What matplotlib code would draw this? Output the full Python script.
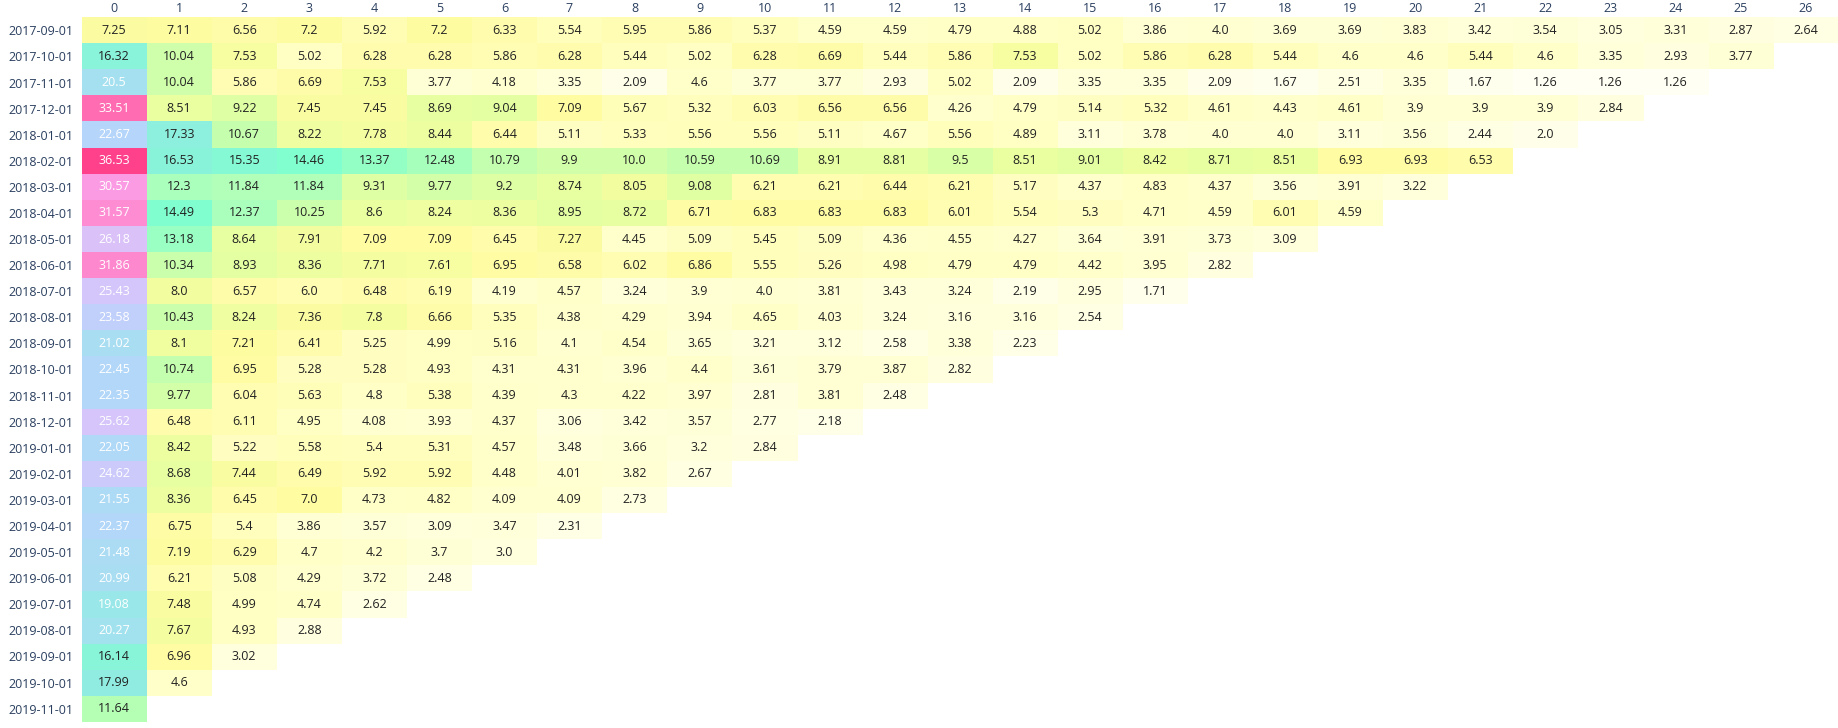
import numpy as np
import matplotlib
matplotlib.use("Agg")
import matplotlib.pyplot as plt
from matplotlib.colors import LinearSegmentedColormap, Normalize

# cohort start months
cohorts = ["2017-09-01", "2017-10-01", "2017-11-01", "2017-12-01", "2018-01-01",
           "2018-02-01", "2018-03-01", "2018-04-01", "2018-05-01", "2018-06-01",
           "2018-07-01", "2018-08-01", "2018-09-01", "2018-10-01", "2018-11-01",
           "2018-12-01", "2019-01-01", "2019-02-01", "2019-03-01", "2019-04-01",
           "2019-05-01", "2019-06-01", "2019-07-01", "2019-08-01", "2019-09-01",
           "2019-10-01", "2019-11-01"]
periods = list(range(27))

# retention values per cohort (one list per row)
retention = [
    [7.25, 7.11, 6.56, 7.2, 5.92, 7.2, 6.33, 5.54, 5.95, 5.86, 5.37, 4.59, 4.59, 4.79, 4.88, 5.02, 3.86, 4.0, 3.69, 3.69, 3.83, 3.42, 3.54, 3.05, 3.31, 2.87, 2.64],
    [16.32, 10.04, 7.53, 5.02, 6.28, 6.28, 5.86, 6.28, 5.44, 5.02, 6.28, 6.69, 5.44, 5.86, 7.53, 5.02, 5.86, 6.28, 5.44, 4.6, 4.6, 5.44, 4.6, 3.35, 2.93, 3.77],
    [20.5, 10.04, 5.86, 6.69, 7.53, 3.77, 4.18, 3.35, 2.09, 4.6, 3.77, 3.77, 2.93, 5.02, 2.09, 3.35, 3.35, 2.09, 1.67, 2.51, 3.35, 1.67, 1.26, 1.26, 1.26],
    [33.51, 8.51, 9.22, 7.45, 7.45, 8.69, 9.04, 7.09, 5.67, 5.32, 6.03, 6.56, 6.56, 4.26, 4.79, 5.14, 5.32, 4.61, 4.43, 4.61, 3.9, 3.9, 3.9, 2.84],
    [22.67, 17.33, 10.67, 8.22, 7.78, 8.44, 6.44, 5.11, 5.33, 5.56, 5.56, 5.11, 4.67, 5.56, 4.89, 3.11, 3.78, 4.0, 4.0, 3.11, 3.56, 2.44, 2.0],
    [36.53, 16.53, 15.35, 14.46, 13.37, 12.48, 10.79, 9.9, 10.0, 10.59, 10.69, 8.91, 8.81, 9.5, 8.51, 9.01, 8.42, 8.71, 8.51, 6.93, 6.93, 6.53],
    [30.57, 12.3, 11.84, 11.84, 9.31, 9.77, 9.2, 8.74, 8.05, 9.08, 6.21, 6.21, 6.44, 6.21, 5.17, 4.37, 4.83, 4.37, 3.56, 3.91, 3.22],
    [31.57, 14.49, 12.37, 10.25, 8.6, 8.24, 8.36, 8.95, 8.72, 6.71, 6.83, 6.83, 6.83, 6.01, 5.54, 5.3, 4.71, 4.59, 6.01, 4.59],
    [26.18, 13.18, 8.64, 7.91, 7.09, 7.09, 6.45, 7.27, 4.45, 5.09, 5.45, 5.09, 4.36, 4.55, 4.27, 3.64, 3.91, 3.73, 3.09],
    [31.86, 10.34, 8.93, 8.36, 7.71, 7.61, 6.95, 6.58, 6.02, 6.86, 5.55, 5.26, 4.98, 4.79, 4.79, 4.42, 3.95, 2.82],
    [25.43, 8.0, 6.57, 6.0, 6.48, 6.19, 4.19, 4.57, 3.24, 3.9, 4.0, 3.81, 3.43, 3.24, 2.19, 2.95, 1.71],
    [23.58, 10.43, 8.24, 7.36, 7.8, 6.66, 5.35, 4.38, 4.29, 3.94, 4.65, 4.03, 3.24, 3.16, 3.16, 2.54],
    [21.02, 8.1, 7.21, 6.41, 5.25, 4.99, 5.16, 4.1, 4.54, 3.65, 3.21, 3.12, 2.58, 3.38, 2.23],
    [22.45, 10.74, 6.95, 5.28, 5.28, 4.93, 4.31, 4.31, 3.96, 4.4, 3.61, 3.79, 3.87, 2.82],
    [22.35, 9.77, 6.04, 5.63, 4.8, 5.38, 4.39, 4.3, 4.22, 3.97, 2.81, 3.81, 2.48],
    [25.62, 6.48, 6.11, 4.95, 4.08, 3.93, 4.37, 3.06, 3.42, 3.57, 2.77, 2.18],
    [22.05, 8.42, 5.22, 5.58, 5.4, 5.31, 4.57, 3.48, 3.66, 3.2, 2.84],
    [24.62, 8.68, 7.44, 6.49, 5.92, 5.92, 4.48, 4.01, 3.82, 2.67],
    [21.55, 8.36, 6.45, 7.0, 4.73, 4.82, 4.09, 4.09, 2.73],
    [22.37, 6.75, 5.4, 3.86, 3.57, 3.09, 3.47, 2.31],
    [21.48, 7.19, 6.29, 4.7, 4.2, 3.7, 3.0],
    [20.99, 6.21, 5.08, 4.29, 3.72, 2.48],
    [19.08, 7.48, 4.99, 4.74, 2.62],
    [20.27, 7.67, 4.93, 2.88],
    [16.14, 6.96, 3.02],
    [17.99, 4.6],
    [11.64],
]

# table with NaN where the cohort has no data yet
grid = np.full((len(cohorts), len(periods)), np.nan)
for i, row in enumerate(retention):
    grid[i, :len(row)] = row

# colour scale: pale yellow -> green -> aqua -> blue -> lavender -> pink
vmin, vmax = 1.0, 36.53
stops = [
    (1.0, (255, 255, 245)), (3.0, (255, 255, 222)), (5.0, (255, 255, 195)),
    (7.0, (255, 252, 162)), (8.5, (235, 255, 160)), (10.0, (208, 255, 170)),
    (12.0, (175, 255, 185)), (14.5, (128, 255, 208)), (16.5, (138, 243, 218)),
    (18.0, (145, 236, 226)), (20.5, (165, 225, 240)), (22.5, (180, 215, 250)),
    (24.5, (203, 203, 250)), (26.2, (218, 195, 250)), (30.5, (250, 158, 230)),
    (32.0, (255, 135, 205)), (33.5, (255, 110, 180)), (36.53, (255, 65, 140)),
]
cmap = LinearSegmentedColormap.from_list(
    "cohort", [((v - vmin) / (vmax - vmin), tuple(c / 255 for c in rgb)) for v, rgb in stops])
cmap.set_bad("white")

plt.rcParams['font.family'] = ['Open Sans', 'DejaVu Sans']
fs = 9.0

fig = plt.figure(figsize=(18.38, 7.28), dpi=100)
ax = fig.add_axes([0.0444, 0.0087, 0.9556, 0.9675])
ax.imshow(np.ma.masked_invalid(grid), cmap=cmap, norm=Normalize(vmin, vmax),
          aspect='auto', interpolation='nearest')

for i in range(len(cohorts)):
    for j in range(len(periods)):
        v = grid[i, j]
        if np.isnan(v):
            continue
        ax.text(j, i, str(v), ha='center', va='center', fontsize=fs,
                color='white' if v > 18.5 else '#222222')

ax.xaxis.tick_top()
ax.set_xticks(range(len(periods)))
ax.set_xticklabels([str(p) for p in periods], fontsize=fs, color='#2a3f5f')
ax.set_yticks(range(len(cohorts)))
ax.set_yticklabels(cohorts, fontsize=fs, color='#2a3f5f')
ax.tick_params(length=0, pad=6)
ax.tick_params(axis='x', pad=1.5)
for s in ax.spines.values():
    s.set_visible(False)

fig.savefig("out.png", dpi=100)
